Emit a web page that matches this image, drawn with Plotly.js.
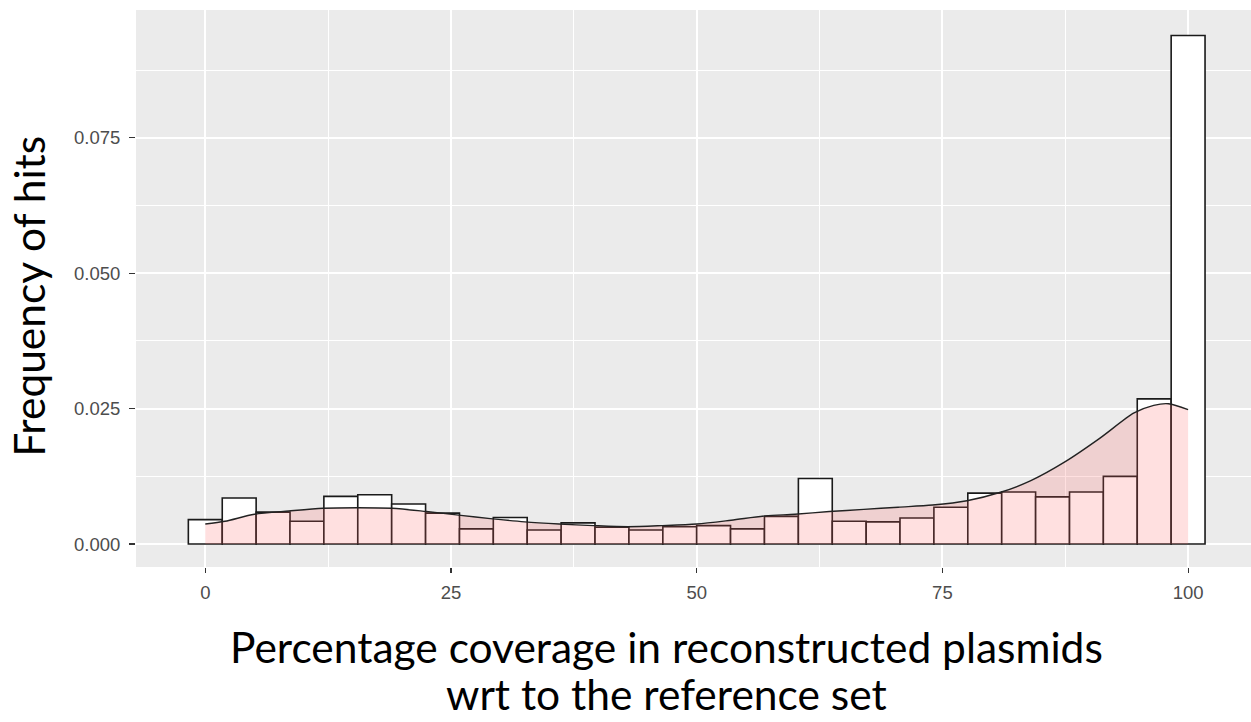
<!DOCTYPE html>
<html>
<head>
<meta charset="utf-8">
<script src="https://cdn.plot.ly/plotly-3.0.1.min.js"></script>
<style>html,body{margin:0;padding:0;background:#fff;}#chart{width:1251px;height:722px;}</style>
</head>
<body>
<div id="chart"></div>
<script>
// Histogram bins (centres, % coverage) and bar heights (density)
const binCentres = [0, 3.45, 6.9, 10.34, 13.79, 17.24, 20.69, 24.14, 27.59, 31.03,
  34.48, 37.93, 41.38, 44.83, 48.28, 51.72, 55.17, 58.62, 62.07, 65.52,
  68.97, 72.41, 75.86, 79.31, 82.76, 86.21, 89.66, 93.1, 96.55, 100];
const binHeights = [0.0045, 0.0085, 0.0059, 0.0042, 0.0088, 0.0091, 0.0074, 0.0057, 0.0028, 0.0049,
  0.0026, 0.0039, 0.0031, 0.0026, 0.0032, 0.0034, 0.0028, 0.0051, 0.0121, 0.0042,
  0.0041, 0.0048, 0.0068, 0.0094, 0.0096, 0.0087, 0.0096, 0.0125, 0.0268, 0.0939];
const binWidth = 3.448;

// Kernel density curve
const densityX = [0, 2, 5, 8.5, 12, 15.5, 19, 22.5, 26, 29, 32.5, 36, 39.5, 43, 46.5, 50,
  53.5, 57, 60, 63.5, 67, 70.5, 74, 77.5, 81, 84, 87.5, 91, 94.5, 96.5, 98, 100];
const densityY = [0.0037, 0.0042, 0.0055, 0.0061, 0.0066, 0.0067, 0.0066, 0.0060, 0.0053, 0.0047,
  0.0041, 0.0037, 0.0034, 0.0032, 0.0034, 0.0037, 0.0044, 0.0052, 0.0055, 0.0060,
  0.0064, 0.0068, 0.0072, 0.0080, 0.0096, 0.0117, 0.0152, 0.0195, 0.0242, 0.0256, 0.0259, 0.0248];

const xTickVals = [0, 25, 50, 75, 100];
const xTickText = ['0', '25', '50', '75', '100'];
const yTickVals = [0, 0.025, 0.05, 0.075];
const yTickText = ['0.000', '0.025', '0.050', '0.075'];

const xTitleLines = ['Percentage coverage in reconstructed plasmids', 'wrt to the reference set'];
const yTitle = 'Frequency of hits';

const traces = [
  {
    type: 'bar', x: binCentres, y: binHeights, width: binWidth,
    marker: {color: '#ffffff', line: {color: '#1a1a1a', width: 1.6}},
    hoverinfo: 'x+y', showlegend: false
  },
  {
    type: 'scatter', mode: 'lines', x: densityX, y: densityY,
    line: {color: '#222222', width: 1.4, shape: 'spline', smoothing: 0.8},
    fill: 'tozeroy', fillcolor: 'rgba(255,102,102,0.2)',
    showlegend: false
  }
];

const tickFont = {family: 'Liberation Sans, Arial, sans-serif', size: 18.5, color: '#4d4d4d'};
const titleFont = {family: 'Lato, Carlito, Calibri, sans-serif', size: 42.5, color: '#000000'};

const layout = {
  width: 1251, height: 722,
  margin: {l: 136, r: 0, t: 10, b: 155, pad: 0},
  paper_bgcolor: '#ffffff', plot_bgcolor: '#ebebeb',
  bargap: 0,
  xaxis: {
    range: [-7.05, 106.4], tickmode: 'array', tickvals: xTickVals, ticktext: xTickText,
    ticks: 'outside', ticklen: 5, tickwidth: 1.1, tickcolor: '#333333', ticklabelstandoff: 4,
    tickfont: tickFont, showgrid: true, gridcolor: '#ffffff', gridwidth: 2,
    minor: {dtick: 12.5, tick0: 0, showgrid: true, gridcolor: '#ffffff', gridwidth: 1, ticks: ''},
    zeroline: false, showline: false, fixedrange: true
  },
  yaxis: {
    range: [-0.00424, 0.0986], tickmode: 'array', tickvals: yTickVals, ticktext: yTickText,
    ticks: 'outside', ticklen: 6, tickwidth: 1.1, tickcolor: '#333333', ticklabelstandoff: 5,
    tickfont: tickFont, showgrid: true, gridcolor: '#ffffff', gridwidth: 2,
    minor: {dtick: 0.0125, tick0: 0, showgrid: true, gridcolor: '#ffffff', gridwidth: 1, ticks: ''},
    zeroline: false, showline: false, fixedrange: true
  },
  annotations: [
    {text: xTitleLines[0], xref: 'paper', yref: 'paper', x: 0.476, y: -0.143, xanchor: 'center', yanchor: 'middle',
     showarrow: false, font: titleFont},
    {text: xTitleLines[1], xref: 'paper', yref: 'paper', x: 0.476, y: -0.2765, xanchor: 'center', yanchor: 'bottom',
     showarrow: false, font: titleFont},
    {text: yTitle, xref: 'paper', yref: 'paper', x: -0.097, y: 0.4865, xanchor: 'center', yanchor: 'middle',
     textangle: -90, showarrow: false, font: titleFont}
  ]
};

Plotly.newPlot('chart', traces, layout, {displayModeBar: false, staticPlot: true});
</script>
</body>
</html>
